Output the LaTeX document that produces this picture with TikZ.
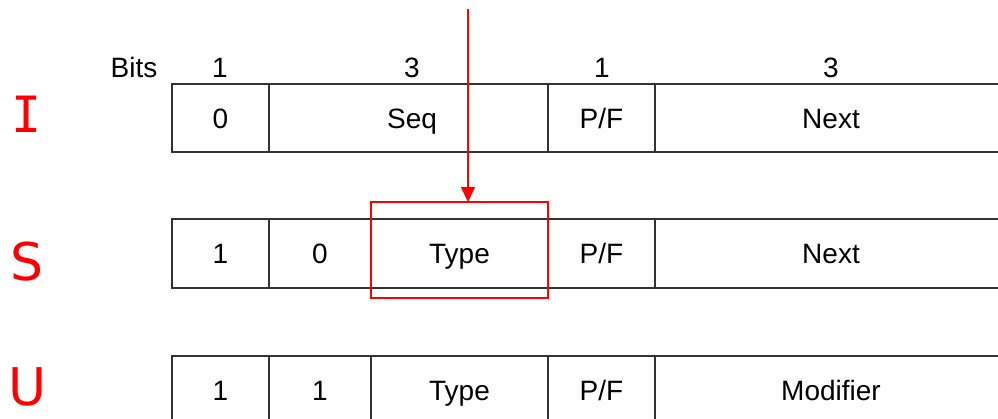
\documentclass[tikz,border=0pt]{standalone}
\usepackage{fontspec}
\setmainfont{Liberation Sans}
\newfontfamily\redsans{DejaVu Sans}
\newfontfamily\redmono{DejaVu Sans Mono}
\usetikzlibrary{arrows.meta}
\definecolor{frameline}{HTML}{333333}
\begin{document}
\begin{tikzpicture}[x=1pt,y=-1pt,
  cell/.style={draw=frameline,line width=1.4pt,inner sep=0pt,outer sep=0pt,
    font=\fontsize{28}{28}\selectfont,text height=20pt,text depth=0pt},
  bitlbl/.style={inner sep=0pt,font=\fontsize{28}{28}\selectfont,text height=20pt,text depth=0pt},
  rowlbl/.style={inner sep=0pt,text=red,font=\redsans\fontsize{52}{52}\selectfont,text height=38pt,text depth=0pt},
  hl/.style={draw=red,line width=1.6pt,inner sep=0pt,outer sep=0pt},
  pointer/.style={draw=red,line width=1.6pt,-{Triangle[length=15pt,width=14pt]}}]
\useasboundingbox (0,0) rectangle (998,418);
\clip (0,0) rectangle (998,418);
% header
\node[bitlbl] (bits) at (134,67) {Bits};
\node[bitlbl] (b1) at (220,67) {1};
\node[bitlbl] (b2) at (412,67) {3};
\node[bitlbl] (b3) at (602,67) {1};
\node[bitlbl] (b4) at (831,67) {3};
% row I
\node[cell,minimum width=97pt,minimum height=68pt] (i1) at (220.5,118) {0};
\node[cell,minimum width=279pt,minimum height=68pt] (i2) at (408.5,118) {\hspace*{7pt}Seq};
\node[cell,minimum width=107pt,minimum height=68pt] (i3) at (601.5,118) {P/F};
\node[cell,minimum width=352pt,minimum height=68pt] (i4) at (831,118) {Next};
% row S
\node[cell,minimum width=97pt,minimum height=69pt] (s1) at (220.5,253.5) {1};
\node[cell,minimum width=102pt,minimum height=69pt] (s2) at (320,253.5) {0};
\node[cell,minimum width=177pt,minimum height=69pt] (s3) at (459.5,253.5) {Type};
\node[cell,minimum width=107pt,minimum height=69pt] (s4) at (601.5,253.5) {P/F};
\node[cell,minimum width=352pt,minimum height=69pt] (s5) at (831,253.5) {Next};
% row U
\node[cell,minimum width=97pt,minimum height=69pt] (u1) at (220.5,390.5) {1};
\node[cell,minimum width=102pt,minimum height=69pt] (u2) at (320,390.5) {1};
\node[cell,minimum width=177pt,minimum height=69pt] (u3) at (459.5,390.5) {Type};
\node[cell,minimum width=107pt,minimum height=69pt] (u4) at (601.5,390.5) {P/F};
\node[cell,minimum width=352pt,minimum height=69pt] (u5) at (831,390.5) {Modifier};
% row labels
\node[rowlbl,font=\redmono\fontsize{50}{50}\selectfont] (li) at (27,113) {I};
\node[rowlbl] (ls) at (27,261) {S};
\node[rowlbl] (lu) at (28,386) {U};
% highlight and pointer
\node[hl,minimum width=177pt,minimum height=96pt] (typebox) at (459.5,250) {};
\coordinate (ptop) at (468,9);
\draw[pointer] (ptop) -- (ptop |- typebox.north);
\end{tikzpicture}
\end{document}
